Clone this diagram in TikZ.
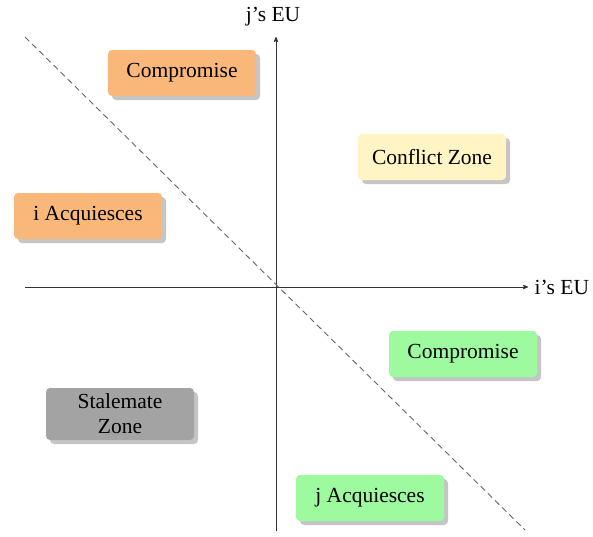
\documentclass[tikz,border=0pt]{standalone}
\usepackage{fontspec}
\setmainfont{Liberation Serif}
\usetikzlibrary{shadows,arrows,positioning}
\definecolor{orangebox}{HTML}{F9B87A}
\definecolor{yellowbox}{HTML}{FFF4C4}
\definecolor{greenbox}{HTML}{9EFA9E}
\definecolor{graybox}{HTML}{A3A3A3}

\begin{document}
\begin{tikzpicture}[x=1pt,y=-1pt,>=stealth',thick,
  zone/.style={rectangle,rounded corners=4pt,minimum width=148pt,minimum height=46pt,
    align=center,font=\fontsize{21.5}{25}\selectfont,
    drop shadow={shadow xshift=4pt,shadow yshift=-4pt,fill=black!45}},
  axis/.style={->,line width=0.8pt,black!80},
  lbl/.style={font=\fontsize{21.5}{25}\selectfont}]
  \useasboundingbox (0,0) rectangle (593,536);
  % axes
  \coordinate (W) at (25,287);
  \coordinate (E) at (528,287);
  \coordinate (S) at (276,531);
  \coordinate (N) at (276,37);
  \draw[axis] (W) -- (E);
  \draw[axis] (S) -- (N);
  \node[lbl,anchor=west] (iEU) at (531,287) {i’s EU};
  \node[lbl] (jEU) at (273,17) {j’s EU};
  % diagonal
  \coordinate (D1) at (25,37);
  \coordinate (D2) at (525,530);
  \draw[dashed,line width=0.9pt,black!60,dash pattern=on 6pt off 4pt] (D1) -- (D2);
  % zones
  \node[zone,fill=orangebox] (compI) at (182,73) {Compromise};
  \node[zone,fill=orangebox] (acqI) at (88,216) {i Acquiesces};
  \node[zone,fill=yellowbox] (conflict) at (432,157) {Conflict Zone};
  \node[zone,fill=greenbox] (compJ) at (463,354) {Compromise};
  \node[zone,fill=graybox,minimum height=52pt,inner ysep=1pt] (stale) at (120,414) {Stalemate\\Zone};
  \node[zone,fill=greenbox] (acqJ) at (370,498) {j Acquiesces};
\end{tikzpicture}
\end{document}
